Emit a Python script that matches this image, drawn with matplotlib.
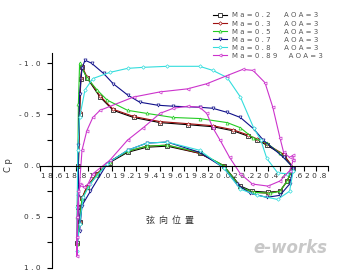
import numpy as np
import matplotlib.pyplot as plt

# posicion a lo largo de la cuerda y Cp (borde de salida superior -> borde de ataque -> inferior)
x_02 = [20.61, 20.53, 20.39, 20.31, 20.23, 20.11, 19.94, 19.73, 19.50, 19.28, 19.11, 19.00, 18.89, 18.85,
        18.84, 18.83, 18.82, 18.815, 18.81,
        18.83, 18.85, 18.89, 18.975, 19.08, 19.23, 19.39, 19.56, 19.83, 20.03, 20.17, 20.27, 20.40, 20.50, 20.56, 20.60]
cp_02 = [0.02, -0.10, -0.20, -0.25, -0.29, -0.34, -0.38, -0.40, -0.42, -0.47, -0.54, -0.67, -0.86, -0.96,
         -0.85, -0.50, 0.00, 0.40, 0.76,
         0.55, 0.32, 0.21, 0.08, -0.03, -0.13, -0.18, -0.19, -0.12, 0.00, 0.20, 0.25, 0.26, 0.25, 0.15, 0.04]

x_03 = x_02
cp_03 = [0.02, -0.11, -0.21, -0.26, -0.30, -0.35, -0.39, -0.41, -0.43, -0.48, -0.55, -0.68, -0.87, -0.97,
         -0.86, -0.52, 0.00, 0.40, 0.77,
         0.55, 0.32, 0.21, 0.08, -0.04, -0.14, -0.19, -0.20, -0.12, 0.00, 0.21, 0.26, 0.27, 0.25, 0.15, 0.04]

x_05 = [20.61, 20.50, 20.39, 20.275, 20.17, 20.06, 19.83, 19.61, 19.39, 19.23, 19.06, 18.975, 18.89, 18.83,
        18.82, 18.815, 18.81, 18.808,
        18.83, 18.85, 18.90, 18.975, 19.08, 19.23, 19.39, 19.56, 19.83, 20.03, 20.17, 20.28, 20.42, 20.50, 20.56, 20.60]
cp_05 = [0.02, -0.12, -0.22, -0.27, -0.37, -0.42, -0.46, -0.47, -0.51, -0.54, -0.64, -0.74, -0.86, -1.00,
         -0.60, 0.00, 0.50, 0.77,
         0.56, 0.33, 0.21, 0.09, -0.04, -0.14, -0.19, -0.20, -0.13, 0.00, 0.21, 0.26, 0.27, 0.25, 0.15, 0.04]

x_07 = [20.61, 20.53, 20.36, 20.28, 20.17, 20.06, 19.94, 19.83, 19.61, 19.48, 19.33, 19.23, 19.11, 19.03,
        18.93, 18.875, 18.85, 18.83, 18.82, 18.82, 18.83,
        18.85, 18.92, 19.06, 19.23, 19.39, 19.56, 19.83, 20.03, 20.14, 20.25, 20.39, 20.50, 20.58, 20.61]
cp_07 = [0.02, -0.08, -0.25, -0.36, -0.47, -0.52, -0.56, -0.57, -0.58, -0.59, -0.62, -0.69, -0.80, -0.90,
         -1.00, -1.03, -0.95, -0.70, -0.20, 0.30, 0.64,
         0.39, 0.25, -0.02, -0.15, -0.22, -0.23, -0.13, 0.02, 0.18, 0.27, 0.31, 0.29, 0.18, 0.03]

x_08 = [20.61, 20.56, 20.48, 20.39, 20.34, 20.28, 20.17, 20.06, 19.94, 19.83, 19.56, 19.36, 19.23, 19.08,
        18.94, 18.875, 18.83, 18.815, 18.81, 18.808,
        18.83, 18.86, 18.917, 19.06, 19.23, 19.39, 19.56, 19.83, 20.03, 20.17, 20.31, 20.48, 20.58, 20.61]
cp_08 = [0.05, 0.08, 0.07, -0.07, -0.25, -0.37, -0.67, -0.86, -0.93, -0.97, -0.97, -0.96, -0.95, -0.91,
         -0.85, -0.74, -0.47, -0.15, 0.40, 0.83,
         0.57, 0.31, 0.18, -0.02, -0.15, -0.22, -0.23, -0.15, 0.02, 0.23, 0.29, 0.33, 0.25, 0.05]

x_089 = [20.61, 20.61, 20.58, 20.53, 20.50, 20.44, 20.375, 20.275, 20.19, 20.06, 19.89, 19.73, 19.50, 19.28,
         19.00, 18.94, 18.89, 18.85, 18.83, 18.81, 18.808,
         18.81, 18.82, 18.84, 18.87, 18.90, 18.94, 19.08, 19.23, 19.36, 19.50, 19.61, 19.73, 19.83, 19.89,
         19.94, 20.00, 20.08, 20.17, 20.27, 20.40, 20.50, 20.58, 20.61]
cp_089 = [-0.05, -0.10, -0.08, -0.13, -0.27, -0.57, -0.81, -0.93, -0.94, -0.88, -0.80, -0.75, -0.72, -0.67,
          -0.54, -0.47, -0.34, -0.15, 0.18, 0.50, 0.88,
          0.70, 0.25, 0.19, 0.21, 0.18, 0.08, -0.05, -0.25, -0.37, -0.51, -0.56, -0.58, -0.57, -0.51,
          -0.37, -0.25, -0.08, 0.08, 0.18, 0.20, 0.15, 0.05, -0.05]

series = [
    (x_02, cp_02, '#000000', 's', 'M a = 0 . 2      A O A = 3'),
    (x_03, cp_03, '#a01010', 'D', 'M a = 0 . 3      A O A = 3'),
    (x_05, cp_05, '#22cc22', '^', 'M a = 0 . 5      A O A = 3'),
    (x_07, cp_07, '#10108a', 'v', 'M a = 0 . 7      A O A = 3'),
    (x_08, cp_08, '#33dddd', 'D', 'M a = 0 . 8      A O A = 3'),
    (x_089, cp_089, '#cc33cc', '<', 'M a = 0 . 8 9     A O A = 3'),
]

xticks = [18.6, 18.8, 19.0, 19.2, 19.4, 19.6, 19.8, 20.0, 20.2, 20.4, 20.6, 20.8]
xlabels = ['1 8 .6', '1 8 .8', '1 9 .0', '1 9 .2', '1 9 .4', '1 9 .6', '1 9 .8',
           '2 0 .0', '2 0 .2', '2 0 .4', '2 0 .6', '2 0 .8']
yticks = [-1.0, -0.5, 0.0, 0.5, 1.0]
ylabels = ['- 1 . 0', '- 0 . 5', '0 . 0', '0 . 5', '1 . 0']

fig = plt.figure(figsize=(3.46, 2.79), dpi=100)
ax = fig.add_axes([40/346, 1-268/279, 288/346, 215/279])

for x, cp, col, mk, lab in series:
    ms = 1.8 if mk == 'D' else 2.2
    ax.plot(x, cp, color=col, lw=0.8, marker=mk, ms=ms, mfc='white', mec=col, mew=0.5, label=lab)

ax.set_xlim(18.5, 20.9)
ax.set_ylim(1.0, -1.1)
ax.spines['right'].set_visible(False)
ax.spines['top'].set_visible(False)
ax.spines['left'].set_position(('data', 18.6))
ax.spines['bottom'].set_position(('data', 0))
ax.spines['left'].set_linewidth(0.8)
ax.spines['bottom'].set_linewidth(0.8)

ax.set_xticks(xticks)
ax.set_xticklabels(xlabels, fontsize=5.3, color='#333333')
ax.set_xticks(np.arange(18.5, 20.95, 0.1), minor=True)
ax.set_yticks(yticks)
ax.set_yticklabels(ylabels, fontsize=5.3, color='#333333')
ax.set_yticks([-0.75, -0.25, 0.25, 0.75], minor=True)
ax.tick_params(axis='both', which='both', length=3.5, width=0.8, pad=2)
ax.tick_params(axis='y', pad=5)

ax.set_ylabel('C p', fontsize=6, color='#333333')
ax.yaxis.set_label_coords(-0.095, 0.479)
ax.text(0.451, 0.219, '弦  向  位  置', transform=ax.transAxes, ha='center', va='center',
        fontsize=6.5, color='#333333', family=['Noto Sans CJK SC', 'DejaVu Sans'])

ax.legend(loc='upper left', bbox_to_anchor=(210/346, 1-9/279), bbox_transform=fig.transFigure,
          frameon=False, fontsize=5, handlelength=2.0, handletextpad=0.6, labelspacing=0.3,
          borderpad=0, labelcolor='#555555')

fig.text(290/346, 1-248/279, 'e-works', ha='center', va='center', fontsize=12,
         style='italic', fontweight='bold', color='#c8c8c8')

plt.savefig('out.png', dpi=100)
